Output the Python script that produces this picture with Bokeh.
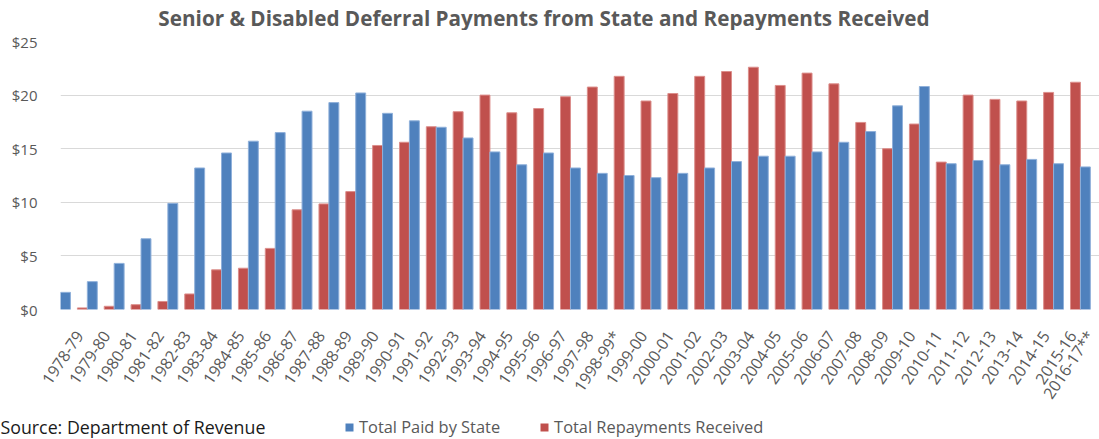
import math
from bokeh.plotting import figure
from bokeh.layouts import column
from bokeh.models import (ColumnDataSource, Range1d, FixedTicker, NumeralTickFormatter,
                          Label, Legend, LegendItem)
from bokeh.transform import dodge
from bokeh.embed import file_html
from bokeh.resources import INLINE

# ---------------- data ----------------
categories = [
    "1978-79", "1979-80", "1980-81", "1981-82", "1982-83", "1983-84", "1984-85",
    "1985-86", "1986-87", "1987-88", "1988-89", "1989-90", "1990-91", "1991-92",
    "1992-93", "1993-94", "1994-95", "1995-96", "1996-97", "1997-98", "1998-99*",
    "1999-00", "2000-01", "2001-02", "2002-03", "2003-04", "2004-05", "2005-06",
    "2006-07", "2007-08", "2008-09", "2009-10", "2010-11", "2011-12", "2012-13",
    "2013-14", "2014-15", "2015-16", "2016-17**",
]
paid_by_state = [
    1.6, 2.6, 4.3, 6.6, 9.9, 13.2, 14.6, 15.7, 16.5, 18.5, 19.3, 20.2, 18.3, 17.6,
    17.0, 16.0, 14.7, 13.5, 14.6, 13.2, 12.7, 12.5, 12.3, 12.7, 13.2, 13.8, 14.3,
    14.3, 14.7, 15.6, 16.6, 19.0, 20.8, 13.6, 13.9, 13.5, 14.0, 13.6, 13.3,
]
repayments = [
    0.0, 0.15, 0.3, 0.45, 0.75, 1.45, 3.7, 3.85, 5.7, 9.3, 9.85, 11.0, 15.3, 15.6,
    17.05, 18.45, 20.0, 18.35, 18.75, 19.85, 20.75, 21.75, 19.45, 20.15, 21.75, 22.2,
    22.6, 20.9, 22.05, 21.05, 17.45, 15.0, 17.3, 13.75, 20.0, 19.6, 19.45, 20.25, 21.2,
]
series_names = ["Total Paid by State", "Total Repayments Received"]
y_ticks = [0, 5, 10, 15, 20, 25]
title_text = "Senior & Disabled Deferral Payments from State and Repayments Received"
source_text = "Source: Department of Revenue"

# ---------------- style ----------------
BLUE = "#4F81BD"
RED = "#C0504D"
BLUE_EDGE = "#8FB0DA"
RED_EDGE = "#DC8E8B"
GRAY = "#595959"
GRID = "#D9D9D9"
FONT = "Open Sans"

W = 1099
H_TITLE, H_MAIN, H_FOOT = 30, 382, 27
LEFT, TOP, BOTTOM = 60, 11, 100
CAT_PX = 26.84
BAR_W = 0.37
LABEL_SHIFT = 0.705

n = len(categories)
src = ColumnDataSource(dict(x=list(range(n)), paid=paid_by_state, repaid=repayments,
                            cat=categories))


def blank(height):
    f = figure(width=W, height=height, output_backend="svg", toolbar_location=None,
               title=None, x_range=Range1d(0, W), y_range=Range1d(0, height),
               x_axis_type=None, y_axis_type=None, min_border=0, frame_align=False)
    f.outline_line_color = None
    f.background_fill_color = "white"
    f.border_fill_color = "white"
    f.grid.visible = False
    return f


# ---------------- title strip ----------------
ft = blank(H_TITLE)
ft.add_layout(Label(x=543.5, y=13, text=title_text, text_font=FONT,
                    text_font_size="20.7px", text_font_style="bold", text_color=GRAY,
                    text_align="center", text_baseline="middle"))

# ---------------- main chart ----------------
p = figure(width=W, height=H_MAIN, output_backend="svg", toolbar_location=None, title=None,
           x_range=Range1d(0, (W - LEFT) / CAT_PX), y_range=Range1d(0, 25),
           min_border_left=LEFT, min_border_right=0, min_border_top=TOP,
           min_border_bottom=BOTTOM, frame_align=False)
p.outline_line_color = None
p.background_fill_color = "white"
p.border_fill_color = "white"

r_red = p.vbar(x=dodge("x", -BAR_W / 2, range=p.x_range), top="repaid", width=BAR_W,
               bottom=0, source=src, fill_color=RED, line_color=RED_EDGE, line_width=1)
r_blue = p.vbar(x=dodge("x", BAR_W / 2, range=p.x_range), top="paid", width=BAR_W,
                bottom=0, source=src, fill_color=BLUE, line_color=BLUE_EDGE, line_width=1)

p.xgrid.visible = False
p.ygrid.ticker = FixedTicker(ticks=y_ticks)
p.ygrid.grid_line_color = GRID
p.ygrid.grid_line_width = 1

ya = p.yaxis[0]
ya.ticker = FixedTicker(ticks=y_ticks)
ya.formatter = NumeralTickFormatter(format="$0")
ya.axis_line_color = None
ya.major_tick_line_color = None
ya.minor_tick_line_color = None
ya.major_tick_out = 0
ya.major_tick_in = 0
ya.major_label_standoff = 23
ya.major_label_text_font = FONT
ya.major_label_text_font_size = "15px"
ya.major_label_text_color = GRAY

xa = p.xaxis[0]
label_ticks = [i + LABEL_SHIFT for i in range(n)]
xa.ticker = FixedTicker(ticks=label_ticks)
xa.major_label_overrides = {t: c for t, c in zip(label_ticks, categories)}
xa.major_label_orientation = math.radians(56)
xa.axis_line_color = None
xa.major_tick_line_color = None
xa.minor_tick_line_color = None
xa.major_tick_out = 0
xa.major_tick_in = 0
xa.major_label_standoff = 23
xa.major_label_text_font = FONT
xa.major_label_text_font_size = "16px"
xa.major_label_text_color = GRAY

# ---------------- footer: legend + source ----------------
ff = blank(H_FOOT)
# hidden renderers of the same data, used only as legend keys
key_blue = ff.vbar(x="x", top="paid", source=src, width=1, fill_color=BLUE,
                   line_color=None, visible=False)
key_red = ff.vbar(x="x", top="repaid", source=src, width=1, fill_color=RED,
                  line_color=None, visible=False)
legend = Legend(items=[LegendItem(label=series_names[0], renderers=[key_blue]),
                       LegendItem(label=series_names[1], renderers=[key_red])],
                location=(344, 1), orientation="horizontal",
                border_line_color=None, background_fill_alpha=0,
                inactive_fill_alpha=0,
                padding=0, margin=0, spacing=39, label_standoff=5,
                glyph_width=10, glyph_height=10, label_height=22,
                label_text_font=FONT, label_text_font_size="16.4px",
                label_text_color=GRAY)
ff.add_layout(legend)
ff.add_layout(Label(x=0, y=12.6, text=source_text, text_font=FONT, text_font_size="17.8px",
                    text_color="#1a1a1a", text_align="left", text_baseline="middle"))

layout = column(ft, p, ff, spacing=0)
open("out.html", "w").write(file_html(layout, INLINE))
